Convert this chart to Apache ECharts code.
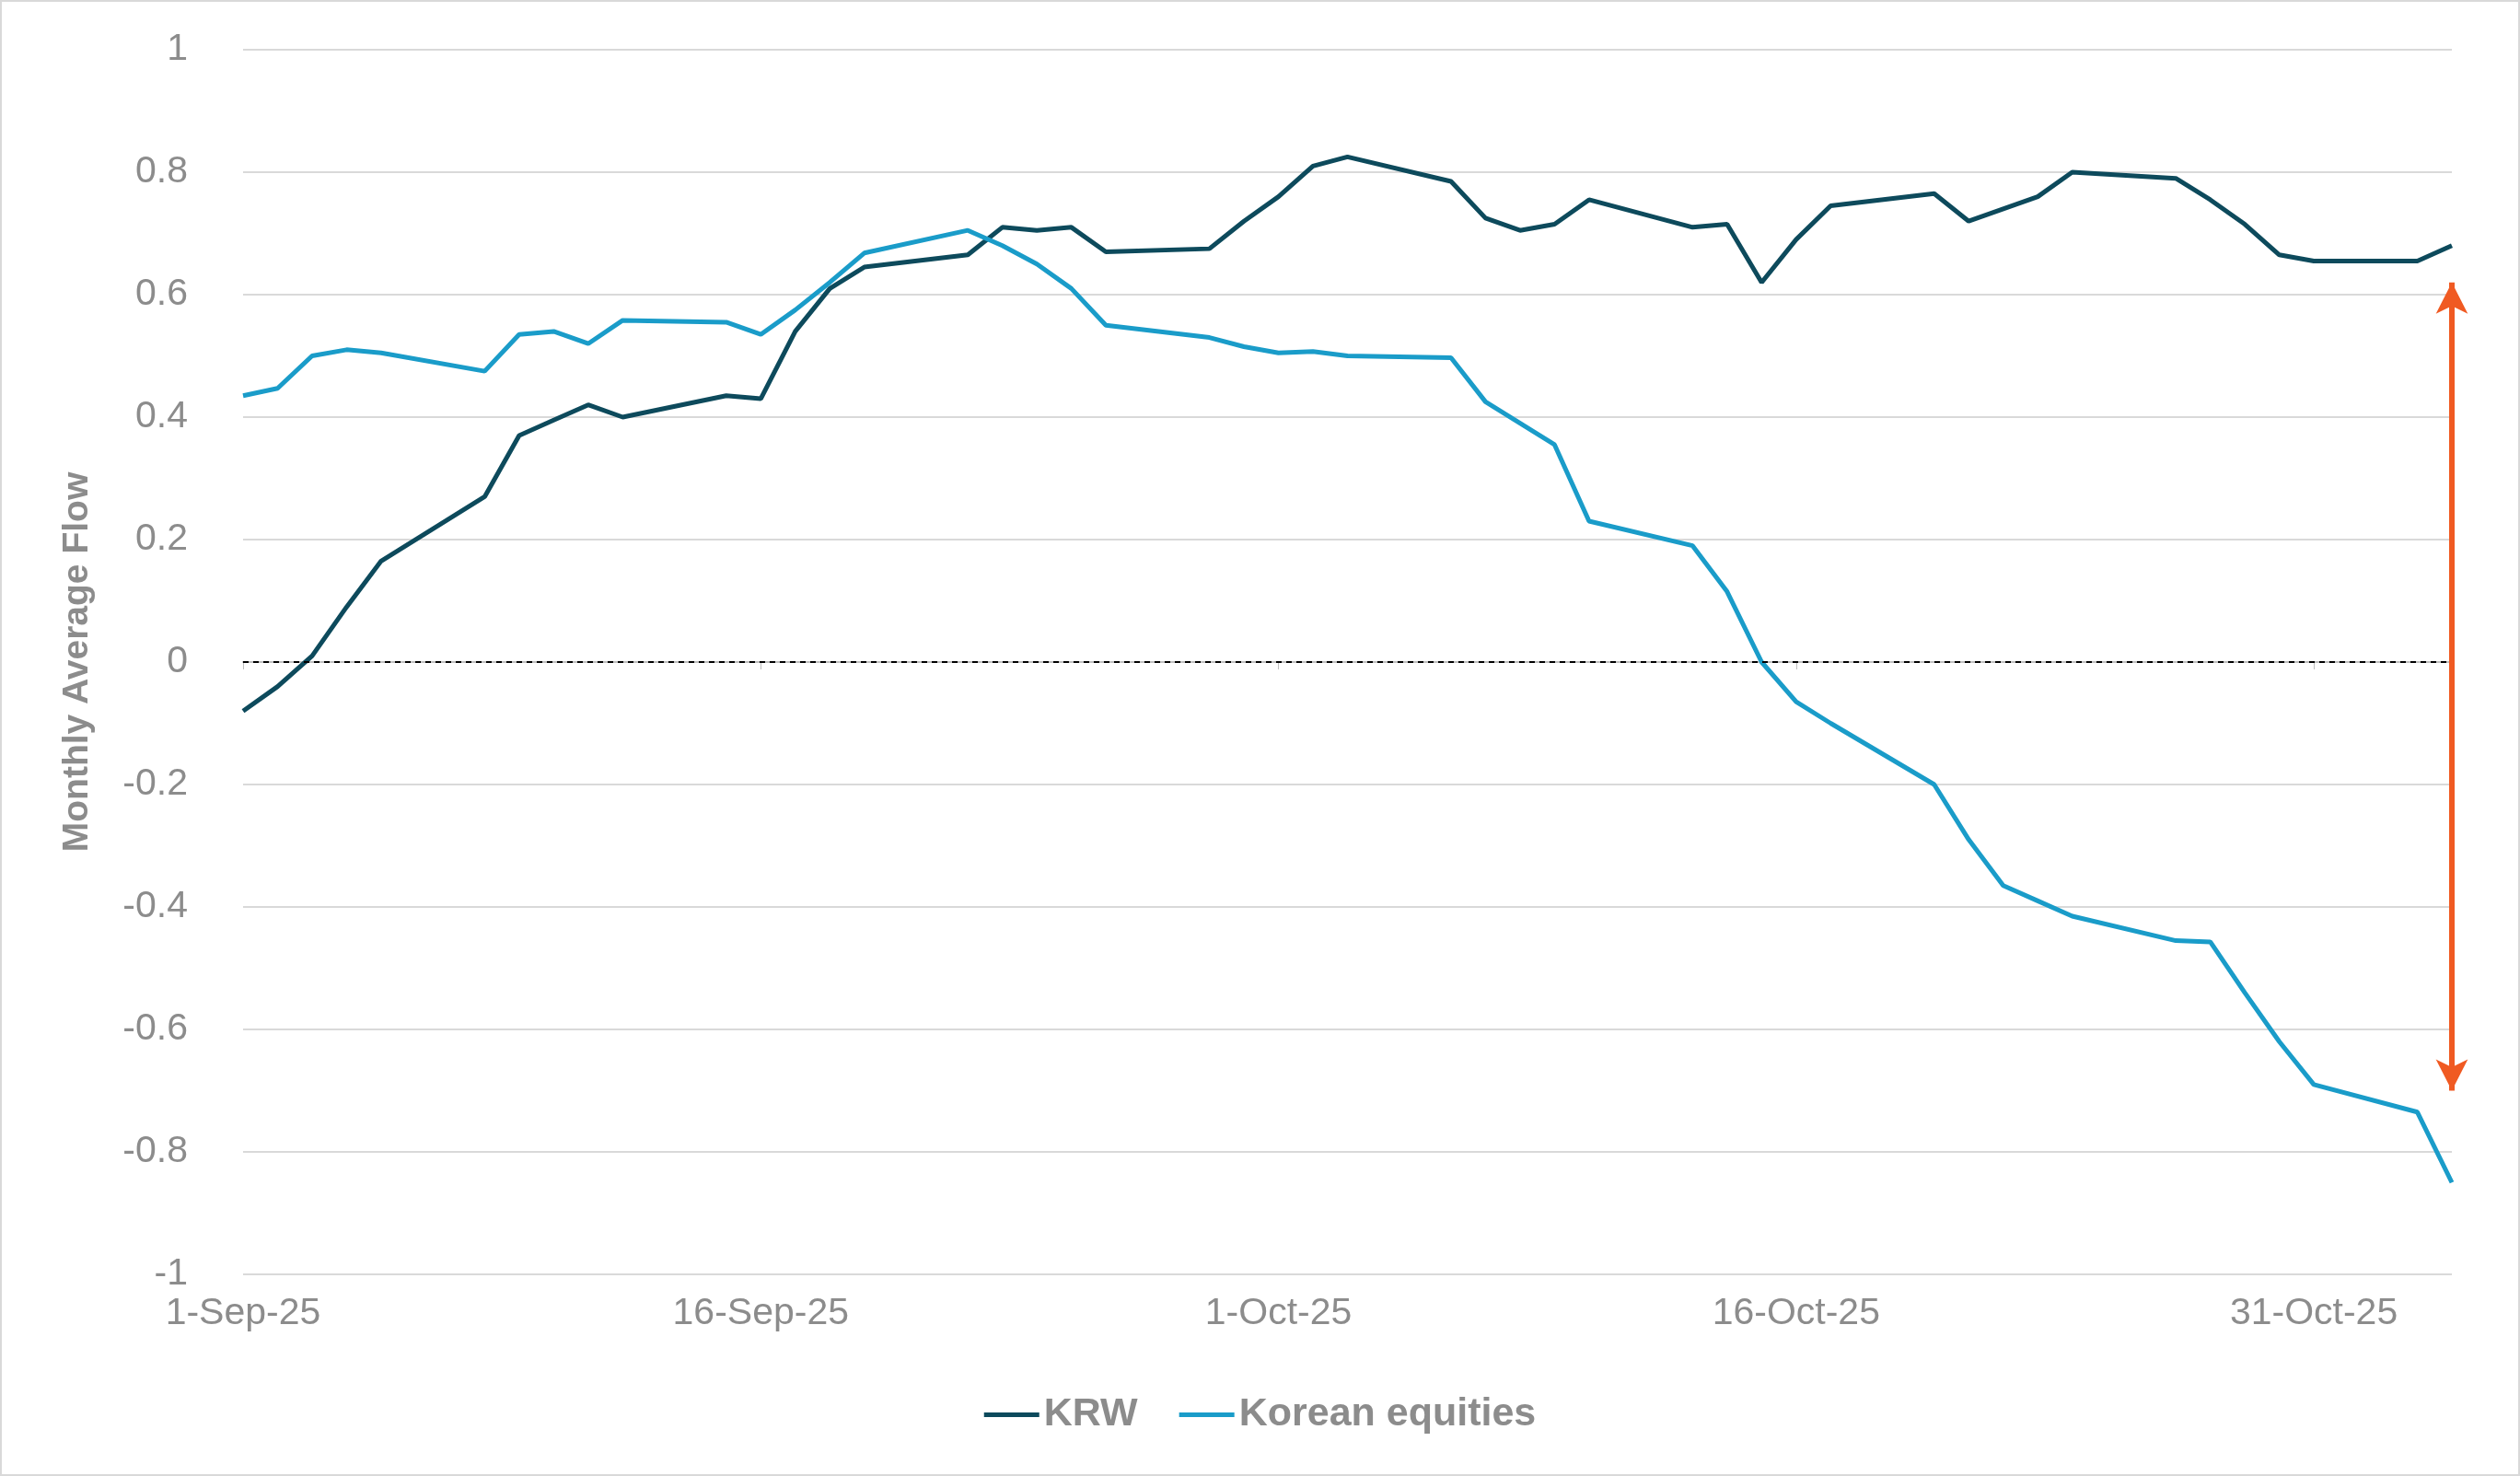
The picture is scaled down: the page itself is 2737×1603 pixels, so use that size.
<!DOCTYPE html>
<html><head><meta charset="utf-8">
<script src="https://cdn.jsdelivr.net/npm/echarts@6/dist/echarts.min.js"></script>
<style>html,body{margin:0;padding:0;background:#fff}#c{width:2737px;height:1603px;box-sizing:border-box;border:2px solid #d9d9d9}</style>
</head><body><div id="c"></div>
<script>
const months = ['Jan','Feb','Mar','Apr','May','Jun','Jul','Aug','Sep','Oct','Nov','Dec'];
const startDate = [2025, 8, 1];
const nDays = 65;
const obsDay = [0,1,2,3,4,7,8,9,10,11,14,15,16,17,18,21,22,23,24,25,28,29,30,31,32,35,36,37,38,39,42,43,44,45,46,49,50,51,52,53,56,57,58,59,60,63,64];
const krw = [-0.08,-0.04,0.01,0.09,0.165,0.27,0.37,0.395,0.42,0.40,0.435,0.43,0.54,0.61,0.645,0.665,0.71,0.705,0.71,0.67,0.675,0.72,0.76,0.81,0.825,0.785,0.725,0.705,0.715,0.755,0.71,0.715,0.62,0.69,0.745,0.765,0.72,0.74,0.76,0.80,0.79,0.755,0.715,0.665,0.655,0.655,0.68];
const equities = [0.435,0.447,0.50,0.51,0.505,0.475,0.535,0.54,0.52,0.558,0.555,0.535,0.575,0.62,0.668,0.705,0.68,0.65,0.61,0.55,0.53,0.515,0.505,0.507,0.5,0.497,0.425,0.39,0.355,0.23,0.19,0.115,0.0,-0.065,-0.10,-0.20,-0.29,-0.365,-0.39,-0.415,-0.455,-0.457,-0.54,-0.62,-0.69,-0.735,-0.85];
const arrowDay = 64, arrowTop = 0.62, arrowBottom = -0.7;

const cats = [];
for (let i = 0; i < nDays; i++) {
  const d = new Date(startDate[0], startDate[1], startDate[2] + i);
  cats.push(d.getDate() + '-' + months[d.getMonth()] + '-' + String(d.getFullYear()).slice(2));
}
function expand(vals){ const a = new Array(nDays).fill(null); obsDay.forEach((d,i)=>a[d]=vals[i]); return a; }

const chart = echarts.init(document.getElementById('c'));
chart.setOption({
  animation:false,
  textStyle:{fontFamily:'Arial, Liberation Sans, sans-serif'},
  grid:{left:262,right:72,top:52,bottom:217},
  legend:{bottom:38,left:'center',icon:'rect',itemWidth:60,itemHeight:5,itemGap:45,
    textStyle:{fontSize:43,fontWeight:'bold',color:'#8c8c8c'},data:['KRW','Korean equities']},
  xAxis:{type:'category',data:cats,boundaryGap:false,
    axisLine:{lineStyle:{color:'#bfbfbf',width:2}},
    axisTick:{show:true,interval:14,alignWithLabel:true,length:8,lineStyle:{color:'#bfbfbf'}},
    axisLabel:{interval:14,fontSize:41,color:'#8c8c8c',margin:22}},
  yAxis:{type:'value',min:-1,max:1,interval:0.2,name:'Monthly Average Flow',nameLocation:'middle',nameGap:160,
    nameTextStyle:{fontSize:39,fontWeight:'bold',color:'#8c8c8c'},
    axisLabel:{fontSize:41,color:'#8c8c8c',margin:60,formatter:v=>String(Math.round(v*10)/10)},
    splitLine:{lineStyle:{color:'#d9d9d9',width:2}},axisLine:{show:false},axisTick:{show:false}},
  series:[
    {name:'KRW',type:'line',data:expand(krw),connectNulls:true,symbol:'none',
      lineStyle:{color:'#0d4a5c',width:5},itemStyle:{color:'#0d4a5c'},
      markLine:{silent:true,symbol:'none',label:{show:false},
        lineStyle:{color:'#000',type:[6,5],width:2},data:[{yAxis:0}]}},
    {name:'Korean equities',type:'line',data:expand(equities),connectNulls:true,symbol:'none',
      lineStyle:{color:'#1a9cc9',width:5},itemStyle:{color:'#1a9cc9'},
      markLine:{silent:true,symbol:['arrow','arrow'],symbolSize:[26,34],label:{show:false},
        lineStyle:{color:'#f05a22',type:'solid',width:6},
        data:[[{coord:[arrowDay,arrowTop]},{coord:[arrowDay,arrowBottom]}]]}}
  ]
});
</script></body></html>
